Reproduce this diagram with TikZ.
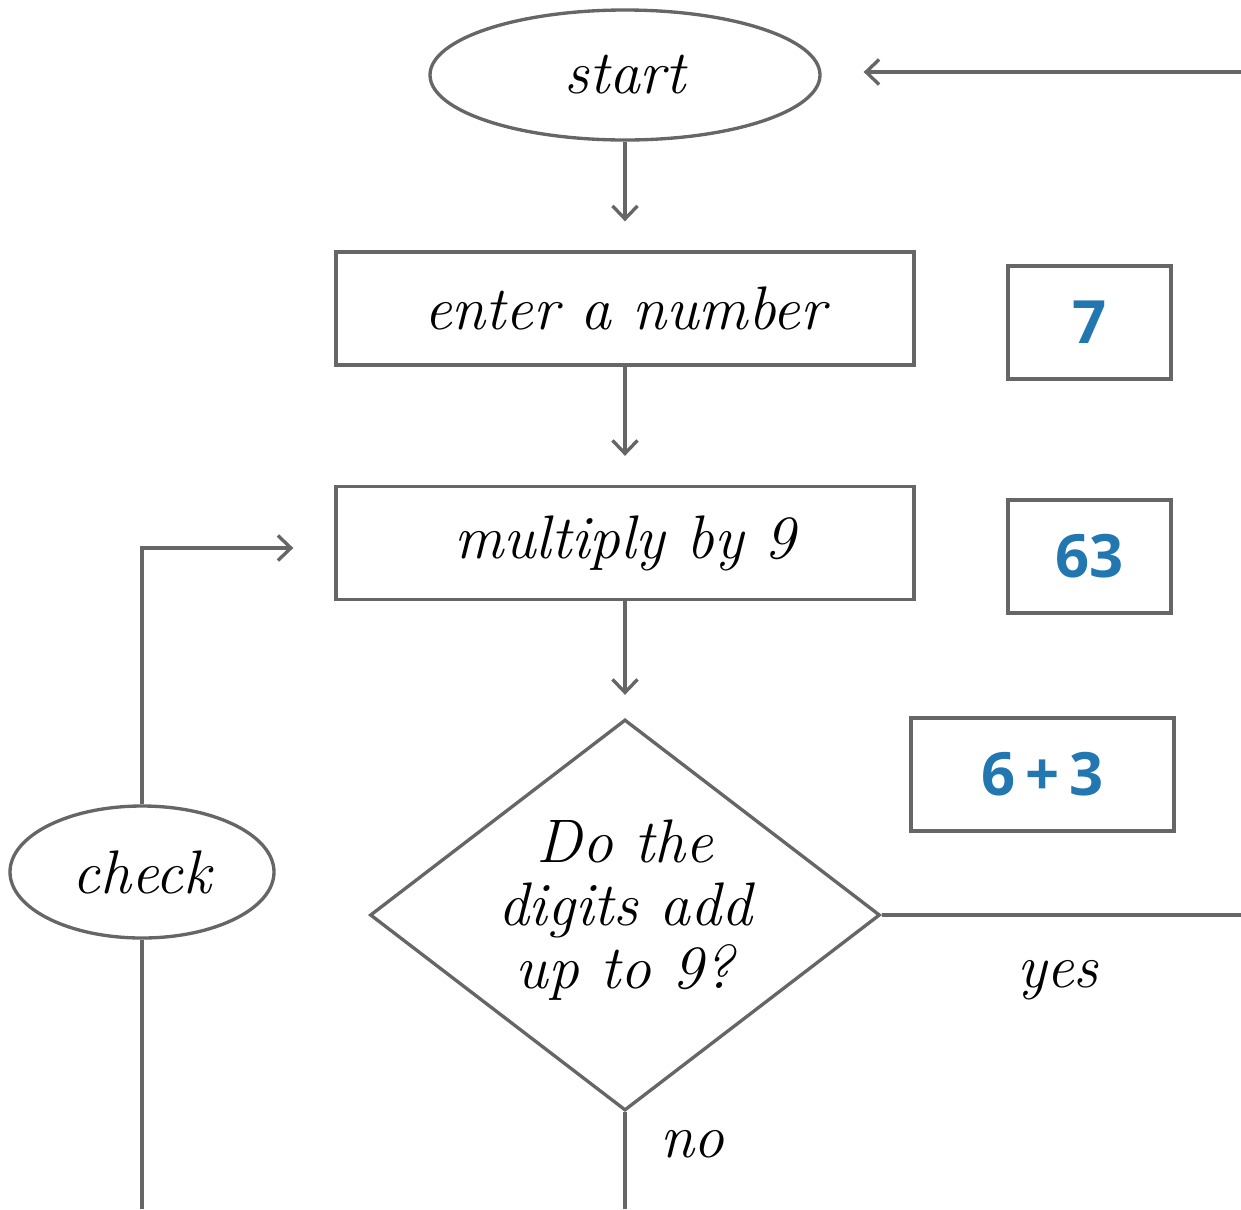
\documentclass[tikz,border=0pt]{standalone}
\usepackage{fontspec}
\newfontfamily\numfont{Open Sans}
\usetikzlibrary{shapes.geometric,arrows.meta}
\definecolor{linegray}{HTML}{666666}
\definecolor{numblue}{HTML}{2377B0}
\newcommand\handfont{\itshape\fontsize{35}{36}\selectfont}
\tikzset{
  flowline/.style={draw=linegray,line width=1.9pt},
  flowarrow/.style={flowline,-{Straight Barb[length=2.6mm,width=5mm]},shorten >=5.8mm},
  termnode/.style={ellipse,flowline,inner sep=0pt,font=\handfont},
  procnode/.style={rectangle,flowline,minimum width=11.56cm,minimum height=2.26cm,font=\handfont},
  numbox/.style={rectangle,flowline,minimum width=3.26cm,minimum height=2.26cm,text=numblue,font=\numfont\bfseries\fontsize{34}{40}\selectfont}
}
\begin{document}
\begin{tikzpicture}
  \useasboundingbox (0,0) rectangle (24.82,-24.18);
  % flow boxes
  \node[termnode,minimum width=7.8cm,minimum height=2.6cm] (start) at (12.5,-1.5) {start};
  \node[procnode] (enter) at (12.5,-6.17) {enter a number};
  \node[procnode] (mult) at (12.5,-10.86) {multiply by 9};
  \node[diamond,flowline,inner sep=0pt,minimum width=10.2cm,minimum height=7.82cm,
    label={[font=\handfont,align=center,yshift=1mm]center:Do the\\digits add\\up to 9?}] (dec) at (12.5,-18.3) {};
  \node[termnode,minimum width=5.28cm,minimum height=2.64cm] (check) at (2.84,-17.44) {check};
  % worked example
  \node[numbox] (b7) at (21.79,-6.45) {7};
  \node[numbox] (b63) at (21.79,-11.13) {63};
  \node[numbox,minimum width=5.26cm] (b6p3) at (20.85,-15.49) {6\,+\,3};
  % loose ends
  \coordinate (loopin) at (24.82,-1.44);
  \coordinate (yesend) at (24.82,-18.3);
  \coordinate (noend) at (12.5,-24.18);
  \coordinate (checkend) at (2.84,-24.18);
  \draw[flowarrow] (start) -- (enter);
  \draw[flowarrow] (enter) -- (mult);
  \draw[flowarrow,shorten >=4.6mm] (mult) -- (dec);
  \draw[flowarrow,shorten >=8.4mm] (loopin) -- (loopin -| start.east);
  \draw[flowarrow,shorten >=8.2mm] (check.north) |- ([yshift=-1mm]mult.west);
  \draw[flowline] (check.south) -- (checkend);
  \draw[flowline] (dec.east) -- (yesend) node[pos=.49,below=0.75cm,font=\handfont]{yes};
  \draw[flowline] (dec.south) -- (noend) node[pos=.33,right=0.55cm,font=\handfont]{no};
\end{tikzpicture}
\end{document}
